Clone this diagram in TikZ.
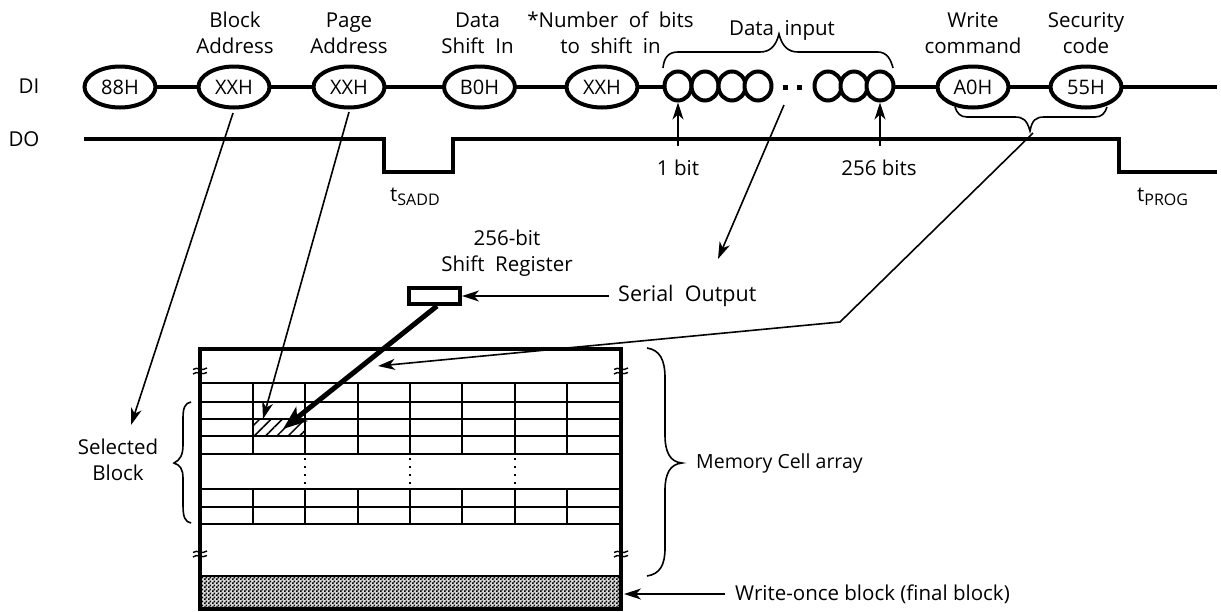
\documentclass[tikz,border=0pt]{standalone}
\usepackage{fontspec}
\setmainfont[WordSpace=2]{Open Sans}
\newfontfamily\tightf{Open Sans}
\usetikzlibrary{shapes.geometric,arrows.meta,patterns,patterns.meta}
\pgfdeclarepatternformonly{chk}{\pgfqpoint{0pt}{0pt}}{\pgfqpoint{4pt}{4pt}}{\pgfqpoint{4pt}{4pt}}{%
  \pgfpathrectangle{\pgfqpoint{0pt}{0pt}}{\pgfqpoint{2pt}{2pt}}%
  \pgfpathrectangle{\pgfqpoint{2pt}{2pt}}{\pgfqpoint{2pt}{2pt}}%
  \pgfusepath{fill}}
\newcommand{\tsub}[1]{t\raisebox{-3.5pt}{\fontsize{16}{16}\selectfont #1}}
\tikzset{
  x=1pt,y=-1pt,
  sig/.style={line width=4pt},
  thin line/.style={line width=1.6pt},
  ptr/.style={line width=1.6pt,-{Stealth[length=17pt,width=11pt,inset=5pt]}},
  oval/.style={ellipse,draw,line width=4pt,fill=white,minimum width=71pt,minimum height=41pt,inner sep=0pt,font=\tightf\fontsize{20}{20}\selectfont},
  bit/.style={ellipse,draw,line width=4pt,fill=white,minimum width=27pt,minimum height=29pt,inner sep=0pt},
  lab/.style={align=center,inner sep=0pt,font=\fontsize{20.5}{26}\selectfont},
  tlab/.style={align=center,inner sep=0pt,font=\tightf\fontsize{20.5}{26}\selectfont},
  grid line/.style={line width=2pt},
  brk/.style={line width=1.4pt},
}
\begin{document}
\begin{tikzpicture}
\useasboundingbox (0,0) rectangle (1221,611);
% signal labels
\node[lab] (di) at (29,86) {DI};
\node[lab] (do) at (24,139) {DO};
% DI signal nodes
\coordinate (diend) at (1217,87);
\draw[sig] (120,87) -- (diend);
\node[oval] (o88) at (120,87) {88H};
\node[oval] (oblk) at (234,87) {XXH};
\node[oval] (opag) at (349,87) {XXH};
\node[oval] (ob0) at (479.5,87) {B0H};
\node[oval] (onum) at (602,87) {XXH};
\node[oval] (oa0) at (973,87) {A0H};
\node[oval] (o55) at (1086,87) {55H};
\fill[white] (772,70) rectangle (813,104);
\foreach \n/\x in {a/678,b/705,c/732,d/758,e/828,f/854,g/880}{
  \node[bit] (b\n) at (\x,86) {};
}
\fill (782.5,85) rectangle (787.5,90);
\fill (797,85) rectangle (802,90);
% DO signal
\coordinate (do0) at (84,139);
\coordinate (do5) at (1217,172);
\draw[sig,line join=miter] (do0) -- (384,139) -- (384,172) -- (453,172) -- (453,139) -- (1119,139) -- (1119,172) -- (do5);
% top labels
\node[lab] (lblk) at (235,33) {Block\\Address};
\node[lab] (lpag) at (349,33) {Page\\Address};
\node[lab] (ldat) at (477.5,33) {Data\\Shift In};
\node[lab] (lnum) at (610.5,33) {*Number of bits\\to shift in};
\node[lab] (linp) at (782,30) {Data input};
\node[lab] (lwr) at (973,33) {Write\\command};
\node[lab] (lsec) at (1086,33) {Security\\code};
% data input brace
\draw[thin line] (663,68) .. controls (664,58) and (668,52) .. (678,52) -- (760,52) .. controls (770,52) and (776,46) .. (779,34) .. controls (782,46) and (788,52) .. (798,52) -- (878,52) .. controls (887,52) and (891,60) .. (893,68);
% lower brace
\coordinate (wcb) at (1033,133);
\draw[thin line] (955,107) .. controls (957,113) and (960,117) .. (967,117) -- (1015,117) .. controls (1023,117) and (1027,120) .. (1030,131) .. controls (1032,120) and (1036,117) .. (1044,117) -- (1095,117) .. controls (1102,117) and (1105,113) .. (1107,107);
% bit arrows
\node[tlab] (l1) at (678,168) {1 bit};
\node[tlab] (l256) at (879,168) {256 bits};
\coordinate (a1) at (678,146);
\coordinate (a2) at (880,146);
\draw[ptr] (a1) -- (ba.south);
\draw[ptr] (a2) -- (bg.south);
% t labels
\node[lab,anchor=west] (tsadd) at (390,197) {\tsub{SADD}};
\node[lab,anchor=west] (tprog) at (1137,197) {\tsub{PROG}};
% register
\node[lab] (lreg) at (507,253) {256-bit\\Shift Register};
\node[draw,line width=4pt,minimum width=51pt,minimum height=16pt,inner sep=0pt] (reg) at (434.5,296) {};
\node[lab,anchor=west,font=\fontsize{21.5}{26}\selectfont] (lser) at (618,296) {Serial Output};
% memory array
\coordinate (mtl) at (200,349);
\coordinate (mbr) at (621,609);
\fill[black!15] (200,576) rectangle (621,609);
\fill[pattern=chk] (200,576) rectangle (621,609);
\fill[pattern={Lines[angle=45,distance=8pt,line width=1.5pt]}] (253,419) rectangle (305,436);
\foreach \y in {383,402,419,436,454,489,507,524,576}{
  \draw[grid line] (200,\y) -- (621,\y);
}
\foreach \x in {253,305,358,410,462,515,567}{
  \draw[grid line] (\x,383) -- (\x,454);
  \draw[grid line] (\x,489) -- (\x,524);
}
\foreach \x in {305,410,515}{
  \draw[line width=2pt,dash pattern=on 2pt off 6pt] (\x,458) -- (\x,488);
}
\node[draw,line width=4pt,minimum width=421pt,minimum height=260pt,inner sep=0pt] (mem) at (410.5,479) {};
% break marks
\foreach \x/\y in {200/371,621/371,200/554,621/554}{
  \draw[brk] (\x-7,\y-1.5) .. controls (\x-3,\y-5) and (\x+2,\y+1) .. (\x+7,\y-3);
  \draw[brk] (\x-7,\y+3) .. controls (\x-3,\y-1) and (\x+2,\y+5) .. (\x+7,\y+1.5);
}
% memory brace
\draw[thin line] (647,348) .. controls (660,350) and (665,360) .. (665,378) -- (665,435) .. controls (665,452) and (670,462) .. (682,463) .. controls (670,464) and (665,474) .. (665,490) -- (665,548) .. controls (665,565) and (660,574) .. (647,576);
\node[tlab,anchor=west,font=\tightf\fontsize{19.5}{26}\selectfont] (lmem) at (696,463) {Memory Cell array};
% selected brace
\draw[thin line] (191,402) .. controls (185,403) and (183,408) .. (183,418) -- (183,445) .. controls (183,455) and (180,460) .. (174,463) .. controls (180,465) and (183,469) .. (183,478) -- (183,505) .. controls (183,517) and (185,522) .. (191,523);
\node[lab] (lsel) at (118,460) {Selected\\Block};
% write-once
\node[tlab,anchor=west] (lwo) at (735,594) {Write-once block (final block)};
% pointers
\coordinate (blkbeg) at (233,113);
\coordinate (blkend) at (131,425);
\draw[ptr] (blkbeg) -- (blkend);
\coordinate (pagbeg) at (349,112);
\coordinate (pagend) at (263,419);
\draw[ptr] (pagbeg) -- (pagend);
\coordinate (datbeg) at (784,105);
\coordinate (datend) at (718,259);
\draw[ptr] (datbeg) -- (datend);
\coordinate (kink) at (840,322);
\coordinate (wrend) at (378,366);
\draw[ptr] (wcb) -- (kink) -- (wrend);
\coordinate (serbeg) at (609,296);
\draw[ptr] (serbeg) -- (reg.east);
\coordinate (wobeg) at (725,594);
\coordinate (woend) at (624,594);
\draw[ptr] (wobeg) -- (woend);
\coordinate (thickbeg) at (437,306);
\coordinate (thickend) at (283,429);
\draw[line width=5pt,-{Stealth[length=24pt,width=18pt,inset=6pt]}] (thickbeg) -- (thickend);
\end{tikzpicture}
\end{document}
